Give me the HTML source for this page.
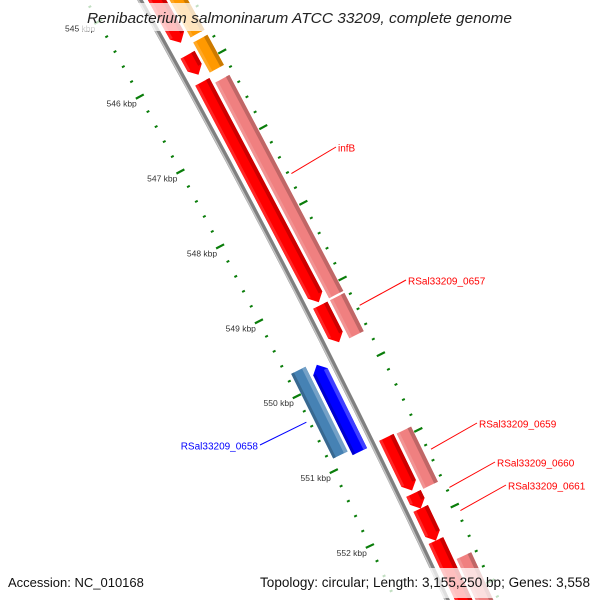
<!DOCTYPE html>
<html><head><meta charset="utf-8">
<style>
html,body{margin:0;padding:0;background:#fff;overflow:hidden;width:600px;height:600px;}
svg{display:block;font-family:"Liberation Sans","DejaVu Sans",sans-serif;}
</style></head>
<body>
<svg id="map" width="600" height="600" viewBox="0 0 600 600" xmlns="http://www.w3.org/2000/svg">
<g id="ticks"></g>
<g id="backbone"></g>
<g id="features"></g>
<g id="labels"></g>
<rect x="80" y="3" width="440" height="28" fill="#fff" opacity="0.75"/>
<text x="87" y="23" textLength="425" lengthAdjust="spacingAndGlyphs" font-size="15" font-style="italic" fill="#222">Renibacterium salmoninarum ATCC 33209, complete genome</text>
<rect x="0" y="568" width="600" height="30" fill="#fff" opacity="0.75"/>
<text x="8" y="587" font-size="13" fill="#111">Accession: NC_010168</text>
<text x="260" y="587" textLength="330" lengthAdjust="spacingAndGlyphs" font-size="13.5" fill="#111">Topology: circular; Length: 3,155,250 bp; Genes: 3,558</text>
</svg>
<script>
// ---- data ----
const featStart  = [544353,545841,546199,549161,550914,551657,551856,552281, 544353,545748,546279,549161,550927,552587, 549771,549732];
const featEnd    = [545681,546106,549121,549652,551617,551856,552281,553251, 545681,546146,549134,549665,551657,553649, 550927,550861];
const featStrand = [1,1,1,1,1,1,1,1, 1,1,1,1,1,1, -1,-1];
const featTrack  = [0,0,0,0,0,0,0,0, 1,1,1,1,1,1, 0,1];
const featColor  = ["#ff0000","#ff0000","#ff0000","#ff0000","#ff0000","#ff0000","#ff0000","#ff0000",
                    "#ff9900","#ff9900","#f08080","#f08080","#f08080","#f08080","#0000ff","#4682b4"];
const featArrow  = [1,1,1,1,1,1,1,1, 0,0,0,0,0,0, 1,0];
const labelText  = ["infB","RSal33209_0657","RSal33209_0659","RSal33209_0660","RSal33209_0661","RSal33209_0658"];
const labelPos   = [547633,549373,551272,551777,552082,550329];
const labelStrand= [1,1,1,1,1,-1];
const labelColor = ["#ff0000","#ff0000","#ff0000","#ff0000","#ff0000","#0000ff"];
const labelXY    = [[338,151],[408,284],[479,427],[497,466],[508,489],[258,449]];
const tickStart = 544000, tickEnd = 553800, tickStep = 200, majorStep = 1000;

// ---- geometry ----
const NS="http://www.w3.org/2000/svg";
function tOf(bp){ return 74 + (bp-546000)/1000*75.3; }
function xb(t){ return 140 + 0.56*t - 0.00008*t*t; }
function P(t,d){ const s=0.56-0.00016*t; const n=Math.sqrt(1+s*s); return [xb(t)+d/n, t - d*s/n]; }
function mk(tag,attrs,parent){ const e=document.createElementNS(NS,tag); for(const k in attrs) e.setAttribute(k,attrs[k]); parent.appendChild(e); return e; }
function pts(a){ return a.map(p=>p[0].toFixed(1)+","+p[1].toFixed(1)).join(" "); }

// backbone
const bb=document.getElementById("backbone");
let bpts=[]; for(let t=-20;t<=640;t+=10) bpts.push(P(t,0));
const b1=mk("polyline",{points:pts(bpts),fill:"none",stroke:"#808080","stroke-width":5},bb);


let bpts2=[]; for(let t=-20;t<=640;t+=10) bpts2.push(P(t,-1.5));
const b2=mk("polyline",{points:pts(bpts2),fill:"none",stroke:"#c4c4c4","stroke-width":1.5},bb);



// ticks
const tg=document.getElementById("ticks");
for(let bp=tickStart; bp<=tickEnd; bp+=tickStep){
  const t=tOf(bp); const major=(bp%majorStep===0);
  const L=major?4.5:1.5;
  [-47,47].forEach(d=>{
    const a=P(t,d-L), b=P(t,d+L);
    const ln=mk("line",{x1:a[0],y1:a[1],x2:b[0],y2:b[1],stroke:"#0a7d0a","stroke-width":major?2.2:2},tg);
    
    
  });
  if(major){
    const p=P(t,-47);
    const tx=mk("text",{x:p[0]-3,y:p[1]+10,"text-anchor":"end","font-size":8.5,fill:"#333"},tg);
    tx.textContent=(bp/1000)+" kbp";
    
    
  }
}

// features
const fg=document.getElementById("features");
function shade(c,f){ const n=parseInt(c.slice(1),16); let r=n>>16,g=(n>>8)&255,b=n&255;
  const m=v=>Math.max(0,Math.min(255,Math.round(f<1?v*f:v+(255-v)*(f-1)))); return "rgb("+m(r)+","+m(g)+","+m(b)+")"; }
for(let i=0;i<featStart.length;i++){
  const s=featStrand[i], tr=featTrack[i];
  const d0=s*(tr===0?7:26), d1=s*(tr===0?23:42);
  const lo=Math.min(d0,d1), hi=Math.max(d0,d1), mid=(lo+hi)/2;
  let t0=tOf(featStart[i]), t1=tOf(featEnd[i]);
  const head=featArrow[i]?Math.min(7,(t1-t0)*0.5):0;
  let poly=[];
  if(s>0){
    poly=[P(t0,lo),P(t1-head,lo),P(t1,mid),P(t1-head,hi),P(t0,hi)];
  } else {
    poly=[P(t1,lo),P(t0+head,lo),P(t0,mid),P(t0+head,hi),P(t1,hi)];
  }
  const g=mk("g",{},fg);
  
  
  mk("polygon",{points:pts(poly),fill:featColor[i]},g);
  const e1=[P(t0,hi-4),P(t1-head,hi-4),P(t1-head,hi),P(t0,hi)];
  const e2=[P(t0,lo),P(t1-head,lo),P(t1-head,lo+3),P(t0,lo+3)];
  if(s>0){
    mk("polygon",{points:pts(e1),fill:shade(featColor[i],0.8)},g);
    mk("polygon",{points:pts(e2),fill:shade(featColor[i],1.15)},g);
  } else {
    const r1=[P(t0+head,hi-4),P(t1,hi-4),P(t1,hi),P(t0+head,hi)];
    const r2=[P(t0+head,lo),P(t1,lo),P(t1,lo+3),P(t0+head,lo+3)];
    mk("polygon",{points:pts(r1),fill:shade(featColor[i],1.25)},g);
    mk("polygon",{points:pts(r2),fill:shade(featColor[i],0.8)},g);
  }
}

// labels
const lg=document.getElementById("labels");
for(let i=0;i<labelText.length;i++){
  const p=P(tOf(labelPos[i]), labelStrand[i]*50);
  const q=labelXY[i];
  const ln=mk("line",{x1:p[0],y1:p[1],x2:labelStrand[i]>0?q[0]-2:q[0]+2,y2:q[1]-4,stroke:labelColor[i],"stroke-width":1},lg);
  
  
  const tx=mk("text",{x:q[0],y:q[1]+0.5,"font-size":10,fill:labelColor[i],"text-anchor":labelStrand[i]>0?"start":"end"},lg);
  tx.textContent=labelText[i];
  
  
}
</script>
</body></html>
